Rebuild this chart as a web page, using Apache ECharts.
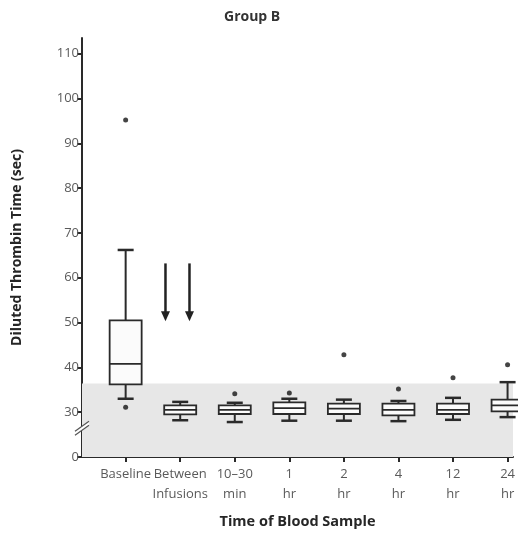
<!DOCTYPE html>
<html>
<head>
<meta charset="utf-8">
<script src="https://cdn.jsdelivr.net/npm/echarts@6/dist/echarts.min.js"></script>
<style>
  html, body { margin: 0; padding: 0; background: #fff; }
  #chart { width: 518px; height: 537px; }
</style>
</head>
<body>
<div id="chart"></div>
<script>
// Sampling times
const categories = ['Baseline', 'Between\nInfusions', '10\u201330\nmin', '1\nhr', '2\nhr', '4\nhr', '12\nhr', '24\nhr'];

// Box-plot statistics of diluted thrombin time (sec)
const whiskerLow  = [33.0, 28.2, 27.8, 28.1, 28.1, 28.0, 28.3, 28.9];
const quartile1   = [36.2, 29.5, 29.6, 29.6, 29.6, 29.3, 29.6, 30.2];
const median      = [40.8, 30.5, 30.5, 30.9, 30.8, 30.5, 30.5, 31.5];
const quartile3   = [50.5, 31.5, 31.5, 32.2, 31.9, 31.9, 31.9, 32.8];
const whiskerHigh = [66.2, 32.3, 32.1, 33.0, 32.8, 32.5, 33.2, 36.7];

// Outlying values: [category index, seconds]
const outliers = [[0, 95.2], [0, 31.1], [2, 34.1], [3, 34.3], [4, 42.8], [5, 35.2], [6, 37.7], [7, 40.6]];

// Y axis: labelled ticks above the break; the axis base is labelled 0
const yTicks = [30, 40, 50, 60, 70, 80, 90, 100, 110];
const axisBase = 20;
const normalRangeTop = 36.4;

// Infusion arrows: [x in category units, start (sec), tip (sec)]
const infusionArrows = [[0.73, 63.2, 50.3], [1.17, 63.2, 50.3]];

const INK = '#2a2a2a';
const FONT = '"Open Sans", "DejaVu Sans", sans-serif';

const boxData = categories.map((c, i) => [i, whiskerLow[i], quartile1[i], median[i], quartile3[i], whiskerHigh[i]]);

function renderBox(params, api) {
  const i = api.value(0);
  const lo = api.coord([i, api.value(1)]);
  const b1 = api.coord([i, api.value(2)]);
  const md = api.coord([i, api.value(3)]);
  const b3 = api.coord([i, api.value(4)]);
  const hi = api.coord([i, api.value(5)]);
  const x = lo[0];
  const hw = 16, cw = 8;
  const ln = (x1, y1, x2, y2, w) => ({
    type: 'line', shape: { x1, y1, x2, y2 }, style: { stroke: INK, lineWidth: w }
  });
  return {
    type: 'group',
    children: [
      ln(x, hi[1], x, b3[1], 2),
      ln(x, b1[1], x, lo[1], 2),
      ln(x - cw, hi[1], x + cw, hi[1], 2.5),
      ln(x - cw, lo[1], x + cw, lo[1], 2.5),
      {
        type: 'rect',
        shape: { x: x - hw, y: b3[1], width: hw * 2, height: b1[1] - b3[1] },
        style: { fill: '#fbfbfb', stroke: INK, lineWidth: 1.8 }
      },
      ln(x - hw, md[1], x + hw, md[1], 1.8)
    ]
  };
}

function renderArrow(params, api) {
  const top = api.coord([api.value(0), api.value(1)]);
  const tip = api.coord([api.value(0), api.value(2)]);
  const x = top[0];
  return {
    type: 'group',
    children: [
      { type: 'line', shape: { x1: x, y1: top[1], x2: x, y2: tip[1] - 8 }, style: { stroke: '#222', lineWidth: 2.5 } },
      { type: 'polygon', shape: { points: [[x - 4.5, tip[1] - 10], [x + 4.5, tip[1] - 10], [x, tip[1]]] }, style: { fill: '#222' } }
    ]
  };
}

const chart = echarts.init(document.getElementById('chart'), null, { renderer: 'canvas' });

chart.setOption({
  animation: false,
  backgroundColor: '#fff',
  title: {
    text: 'Group B',
    left: 219,
    top: 5,
    textStyle: { fontFamily: FONT, fontSize: 14, fontWeight: 'bold', color: '#333' }
  },
  grid: { left: 82, right: 0, top: 38, bottom: 80 },
  xAxis: {
    type: 'value',
    min: -0.8,
    max: 7.1,
    name: 'Time of Blood Sample',
    nameLocation: 'middle',
    nameGap: 57,
    nameTextStyle: { fontFamily: FONT, fontSize: 14.5, fontWeight: 'bold', color: '#262626' },
    axisLine: { onZero: false, lineStyle: { color: INK, width: 2 } },
    axisTick: { show: true, length: 5, customValues: categories.map((c, i) => i), lineStyle: { color: INK, width: 2 } },
    axisLabel: {
      customValues: categories.map((c, i) => i),
      formatter: v => categories[Math.round(v)] || '',
      showMinLabel: true,
      showMaxLabel: true,
      hideOverlap: false,
      fontFamily: FONT, fontSize: 13, color: '#5a5a5a', lineHeight: 20, margin: 7
    },
    splitLine: { show: false }
  },
  yAxis: {
    type: 'value',
    min: axisBase,
    max: 113.5,
    name: 'Diluted Thrombin Time (sec)',
    nameLocation: 'middle',
    nameGap: 58,
    nameRotate: 90,
    nameTextStyle: { fontFamily: FONT, fontSize: 14, fontWeight: 'bold', color: '#262626' },
    axisLine: { show: true, onZero: false, lineStyle: { color: INK, width: 2 } },
    axisTick: { show: true, length: 5, customValues: [axisBase].concat(yTicks), lineStyle: { color: INK, width: 2 } },
    axisLabel: {
      customValues: [axisBase].concat(yTicks),
      formatter: v => (v === axisBase ? '0' : String(v)),
      showMinLabel: true,
      fontFamily: FONT, fontSize: 13, color: '#5a5a5a', margin: 3
    },
    splitLine: { show: false }
  },
  series: [
    {
      name: 'normal range',
      type: 'line',
      data: [],
      z: 1,
      markArea: {
        silent: true,
        itemStyle: { color: '#e7e7e7' },
        data: [[{ yAxis: axisBase }, { yAxis: normalRangeTop }]]
      }
    },
    {
      name: 'boxes',
      type: 'custom',
      z: 3,
      renderItem: renderBox,
      data: boxData
    },
    {
      name: 'outliers',
      type: 'scatter',
      z: 4,
      symbol: 'circle',
      symbolSize: 5,
      itemStyle: { color: '#151515' },
      data: outliers
    },
    {
      name: 'infusions',
      type: 'custom',
      z: 4,
      renderItem: renderArrow,
      data: infusionArrows
    }
  ]
});

// Break marks on the y axis between 0 and 30
const bp = chart.convertToPixel({ gridIndex: 0 }, [-0.8, 26.4]);
chart.setOption({
  graphic: [
    {
      type: 'polygon', z: 100,
      shape: { points: [[bp[0] - 7, bp[1] + 3], [bp[0] + 7, bp[1] - 7], [bp[0] + 7, bp[1] - 3], [bp[0] - 7, bp[1] + 7]] },
      style: { fill: '#fff' }
    },
    {
      type: 'line', z: 101,
      shape: { x1: bp[0] - 7, y1: bp[1] + 3, x2: bp[0] + 7, y2: bp[1] - 7 },
      style: { stroke: '#555', lineWidth: 1.2 }
    },
    {
      type: 'line', z: 101,
      shape: { x1: bp[0] - 7, y1: bp[1] + 7, x2: bp[0] + 7, y2: bp[1] - 3 },
      style: { stroke: '#555', lineWidth: 1.2 }
    }
  ]
});
</script>
</body>
</html>
